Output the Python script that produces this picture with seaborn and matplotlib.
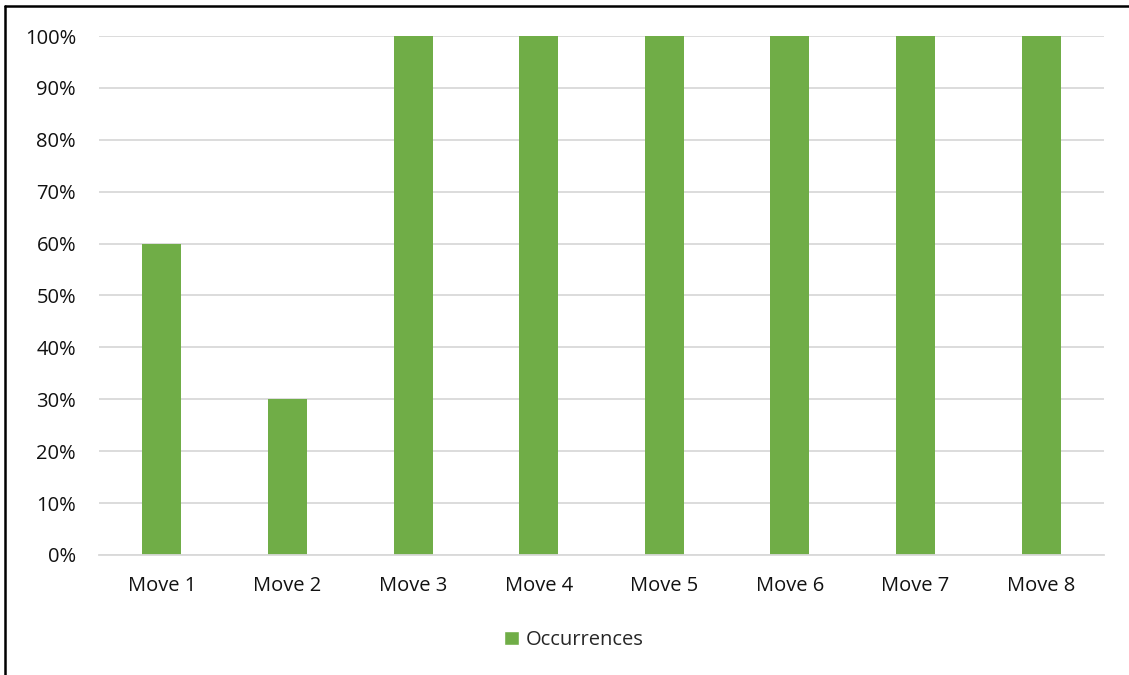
import matplotlib
matplotlib.use("Agg")
import matplotlib.pyplot as plt
import pandas as pd
import seaborn as sns
from matplotlib.lines import Line2D
from matplotlib.patches import Patch
from matplotlib.ticker import PercentFormatter, MultipleLocator

moves = ["Move 1", "Move 2", "Move 3", "Move 4", "Move 5", "Move 6", "Move 7", "Move 8"]
occurrences = [0.60, 0.30, 1.00, 1.00, 1.00, 1.00, 1.00, 1.00]
series_name = "Occurrences"

GREEN = "#70AD47"
GRID = "#D9D9D9"

df = pd.DataFrame({"move": moves, "value": occurrences})

sns.set_theme(style="white")
plt.rcParams["font.family"] = ["Open Sans", "DejaVu Sans"]

fig = plt.figure(figsize=(11.29, 6.75), dpi=100)
ax = fig.add_axes([99 / 1129, 1 - 555 / 675, (1104 - 99) / 1129, (555 - 36) / 675])

sns.barplot(data=df, x="move", y="value", color=GREEN, width=0.31,
            saturation=1, linewidth=0, ax=ax)

ax.set_ylim(0, 1)
ax.yaxis.set_major_locator(MultipleLocator(0.1))
ax.yaxis.set_major_formatter(PercentFormatter(1.0, decimals=0))
ax.grid(axis="y", color=GRID, linewidth=1.3)
ax.set_axisbelow(True)
for side in ["top", "right", "left"]:
    ax.spines[side].set_visible(False)
ax.spines["bottom"].set_color(GRID)
ax.spines["bottom"].set_linewidth(1.3)
ax.tick_params(axis="both", length=0, labelsize=14.5, colors="#111111")
ax.tick_params(axis="x", pad=15)
ax.tick_params(axis="y", pad=16.5)
ax.set_xlabel("")
ax.set_ylabel("")

fig.legend(handles=[Patch(facecolor=GREEN, label=series_name)], loc="center",
           bbox_to_anchor=(574 / 1129, 1 - 640 / 675), frameon=False, fontsize=14.5,
           handlelength=0.75, handleheight=0.75, handletextpad=0.35)

# chart border (left and top edges visible in the reference)
fig.add_artist(Line2D([5 / 1129, 5 / 1129], [0, 1 - 6 / 675], transform=fig.transFigure,
                      color="black", linewidth=1.8))
fig.add_artist(Line2D([5 / 1129, 1], [1 - 6 / 675, 1 - 6 / 675], transform=fig.transFigure,
                      color="black", linewidth=1.8))

fig.savefig("out.png", dpi=100)
